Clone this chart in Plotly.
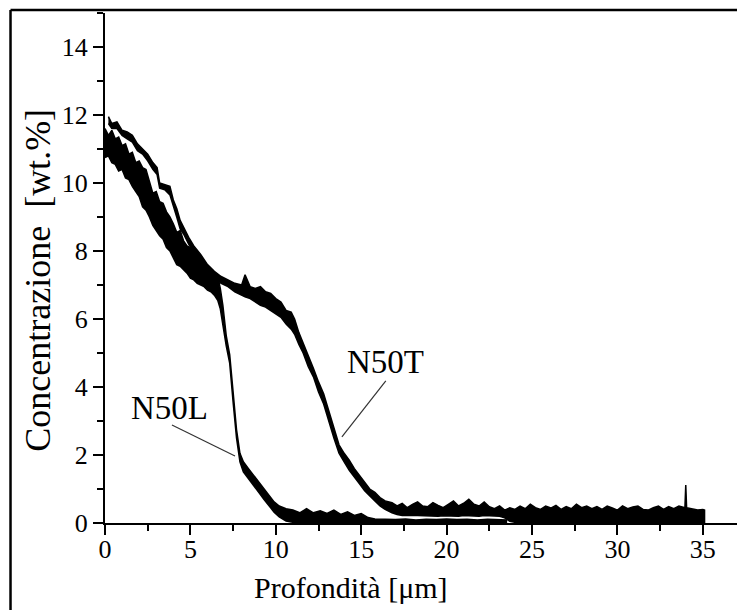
import plotly.graph_objects as go

# ---------------- data ----------------
# N50L : depth [um], upper and lower edge of the noisy trace [wt.%]
depth_L = [0.0, 0.2, 0.4, 0.6, 0.8, 1.0, 1.2, 1.4, 1.6, 1.8,
           2.0, 2.2, 2.4, 2.6, 2.8, 3.0, 3.2, 3.4, 3.6, 3.8,
           4.0, 4.2, 4.4, 4.6, 4.8, 5.0, 5.2, 5.4, 5.6, 5.8,
           6.0, 6.2, 6.4, 6.6,
           6.75, 6.9, 7.1, 7.3, 7.5, 7.7, 7.9, 8.1, 8.4,
           8.7, 9.0, 9.3, 9.6, 9.9, 10.2, 10.6, 11.0, 11.4, 11.8,
           12.2, 12.6, 13.0, 13.4, 13.8, 14.2, 14.6, 15.0, 15.4, 15.8,
           16.4, 17.0, 17.6, 18.2, 18.8, 19.4, 20.0, 20.6, 21.2, 21.8,
           22.4, 23.0, 23.5]
hi_L = [11.6, 11.4, 11.55, 11.3, 11.35, 11.1, 11.15, 10.85, 10.9, 10.6,
        10.65, 10.45, 10.4, 10.05, 9.7, 9.75, 9.45, 9.4, 9.15, 9.0,
        8.8, 8.55, 8.6, 8.3, 8.15, 8.1, 7.95, 7.85, 7.8, 7.65,
        7.55, 7.45, 7.35, 7.25,
        6.9, 6.4, 5.5, 4.95, 3.85, 2.75, 2.05, 1.8, 1.6,
        1.4, 1.2, 1.0, 0.82, 0.62, 0.5, 0.42, 0.38, 0.3, 0.42,
        0.3, 0.36, 0.28, 0.38, 0.25, 0.33, 0.22, 0.28, 0.16, 0.12,
        0.11, 0.1, 0.12, 0.09, 0.11, 0.1, 0.12, 0.1, 0.11, 0.09,
        0.11, 0.1, 0.09]
lo_L = [10.75, 10.8, 10.6, 10.55, 10.35, 10.4, 10.15, 10.1, 9.9, 9.75,
        9.6, 9.3, 9.2, 9.0, 8.75, 8.6, 8.45, 8.35, 8.1, 8.0,
        7.8, 7.6, 7.55, 7.45, 7.35, 7.2, 7.15, 7.05, 7.0, 6.95,
        6.85, 6.8, 6.7, 6.55,
        6.3, 5.85, 5.2, 4.7, 3.55, 2.5, 1.8, 1.5, 1.3,
        1.1, 0.9, 0.7, 0.5, 0.32, 0.18, 0.06, 0.02, 0.02, 0.02,
        0.02, 0.02, 0.02, 0.02, 0.02, 0.02, 0.02, 0.02, 0.02, 0.02,
        0.02, 0.02, 0.02, 0.02, 0.02, 0.02, 0.02, 0.02, 0.02, 0.02,
        0.02, 0.02, 0.02]

# N50T : depth [um], upper and lower edge of the noisy trace [wt.%]
depth_T = [0.2, 0.4, 0.7, 1.0, 1.3, 1.6, 1.9, 2.2, 2.5, 2.8,
           3.05, 3.2, 3.5, 3.8, 4.0, 4.2, 4.4, 4.6, 4.9, 5.2,
           5.6, 6.0, 6.4, 6.8, 7.2,
           7.6, 8.0, 8.2, 8.5, 8.8, 9.1, 9.4, 9.7, 10.0, 10.3,
           10.6, 10.9, 11.1, 11.35,
           11.6, 11.9, 12.2, 12.5, 12.8, 13.1, 13.4, 13.7, 14.0, 14.3,
           14.6, 14.9, 15.2, 15.5, 15.8, 16.1, 16.4,
           16.8, 17.1, 17.4, 17.7, 18.0, 18.3, 18.6, 18.9, 19.2, 19.5,
           19.8, 20.1, 20.4, 20.7, 21.0, 21.3, 21.6, 21.9, 22.2, 22.5,
           22.8, 23.1, 23.4,
           23.7, 24.0, 24.3, 24.6, 24.9, 25.2, 25.5, 25.8, 26.1, 26.4,
           26.7, 27.0, 27.3, 27.6, 27.9, 28.2, 28.5, 28.8, 29.1, 29.4,
           29.7, 30.0, 30.3, 30.6, 30.9, 31.2, 31.5, 31.8, 32.1, 32.4,
           32.7, 33.0, 33.3, 33.6, 33.95, 34.0, 34.05, 34.4, 34.7, 35.0,
           35.1]
hi_T = [11.95, 11.75, 11.8, 11.55, 11.5, 11.4, 11.15, 11.0, 10.85, 10.6,
        10.45, 10.0, 9.95, 9.9, 9.5, 9.25, 8.9, 8.7, 8.4, 8.15,
        7.9, 7.6, 7.4, 7.25, 7.15,
        7.05, 7.0, 7.3, 6.95, 6.9, 6.95, 6.8, 6.75, 6.6, 6.5,
        6.25, 6.2, 6.0, 5.6,
        5.3, 4.95, 4.55, 4.15, 3.8, 3.3, 2.8, 2.3, 2.05, 1.85,
        1.6, 1.4, 1.2, 1.0, 0.9, 0.75, 0.65,
        0.6, 0.5, 0.58, 0.45, 0.55, 0.62, 0.5, 0.48, 0.6, 0.52,
        0.45, 0.55, 0.65, 0.5, 0.58, 0.7, 0.55, 0.5, 0.62, 0.48,
        0.42, 0.5, 0.38,
        0.45, 0.4, 0.5, 0.42, 0.55, 0.45, 0.4, 0.5, 0.44, 0.52,
        0.4, 0.48, 0.42, 0.55, 0.45, 0.5, 0.42, 0.48, 0.4, 0.5,
        0.44, 0.38, 0.5, 0.42, 0.47, 0.5, 0.4, 0.38, 0.45, 0.5,
        0.4, 0.48, 0.42, 0.5, 0.45, 1.12, 0.45, 0.4, 0.38, 0.4,
        0.38]
lo_T = [11.75, 11.6, 11.6, 11.4, 11.3, 11.2, 10.95, 10.85, 10.65, 10.4,
        10.25, 9.85, 9.8, 9.65, 9.3, 9.0, 8.65, 8.5, 8.2, 7.95,
        7.65, 7.4, 7.2, 7.05, 6.95,
        6.8, 6.7, 6.65, 6.6, 6.5, 6.4, 6.35, 6.25, 6.15, 6.05,
        5.85, 5.7, 5.55, 5.25,
        5.0, 4.6, 4.3, 3.85, 3.5, 3.0, 2.5, 2.05, 1.8, 1.55,
        1.35, 1.15, 0.95, 0.8, 0.65, 0.5, 0.4,
        0.3, 0.25, 0.22, 0.22, 0.23, 0.22, 0.22, 0.21, 0.2, 0.2,
        0.21, 0.2, 0.21, 0.2, 0.22, 0.22, 0.21, 0.2, 0.22, 0.22,
        0.21, 0.2, 0.15,
        0.05, 0.02, 0.02, 0.02, 0.02, 0.02, 0.02, 0.02, 0.02, 0.02,
        0.02, 0.02, 0.02, 0.02, 0.02, 0.02, 0.02, 0.02, 0.02, 0.02,
        0.02, 0.02, 0.02, 0.02, 0.02, 0.02, 0.02, 0.02, 0.02, 0.02,
        0.02, 0.02, 0.02, 0.02, 0.02, 0.02, 0.02, 0.02, 0.02, 0.02,
        0.0]

series_names = ["N50L", "N50T"]
# label text position and leader line (text x, text y / line x0, y0, x1, y1)
label_text_xy = [(3.8, 3.37), (16.45, 4.75)]
label_line = [(3.92, 2.88, 7.61, 1.97), (16.44, 4.18, 13.87, 2.53)]

x_ticks = [0, 5, 10, 15, 20, 25, 30, 35]
y_ticks = [0, 2, 4, 6, 8, 10, 12, 14]

FONT = "Liberation Serif, Times New Roman, DejaVu Serif, serif"

fig = go.Figure()
for name, d, hi, lo in [("N50L", depth_L, hi_L, lo_L), ("N50T", depth_T, hi_T, lo_T)]:
    fig.add_trace(go.Scatter(
        x=d + d[::-1], y=hi + lo[::-1], mode="lines", name=name,
        fill="toself", fillcolor="black",
        line=dict(color="black", width=1.5), hoverinfo="skip"))

for name, (tx, ty), (x0, y0, x1, y1) in zip(series_names, label_text_xy, label_line):
    fig.add_annotation(x=tx, y=ty, text=name, showarrow=False,
                       xanchor="center", yanchor="middle",
                       font=dict(family=FONT, size=33, color="black"))
    fig.add_shape(type="line", x0=x0, y0=y0, x1=x1, y1=y1,
                  line=dict(color="#333333", width=1.2))

# axis titles
fig.add_annotation(xref="paper", yref="paper", x=0.389, y=-0.126,
                   xanchor="center", yanchor="middle",
                   text="Profondità [μm]", showarrow=False,
                   font=dict(family=FONT, size=30, color="black"))
fig.add_annotation(xref="paper", yref="paper", x=-0.106, y=0.475,
                   xanchor="center", yanchor="middle",
                   text="Concentrazione&nbsp; [wt.%]", textangle=-90, showarrow=False,
                   font=dict(family=FONT, size=36, color="black"))

# outer frame (left and top edge of the original figure box)
fig.add_shape(type="line", xref="paper", yref="paper",
              x0=-0.1495, y0=-0.18, x1=-0.1495, y1=1.0059,
              line=dict(color="black", width=2.5))
fig.add_shape(type="line", xref="paper", yref="paper",
              x0=-0.1495, y0=1.0059, x1=1.01, y1=1.0059,
              line=dict(color="black", width=2.5))

fig.update_xaxes(range=[0, 37], tickvals=x_ticks, ticktext=[str(v) for v in x_ticks],
                 showline=True, linecolor="black", linewidth=2,
                 ticks="outside", ticklen=10, tickwidth=2, tickcolor="black",
                 ticklabelstandoff=-8,
                 minor=dict(dtick=2.5, tick0=0, ticks="outside", ticklen=6,
                            tickwidth=2, tickcolor="black"),
                 showgrid=False, zeroline=False,
                 tickfont=dict(family=FONT, size=26, color="black"))
fig.update_yaxes(range=[0, 15], tickvals=y_ticks, ticktext=[str(v) for v in y_ticks],
                 showline=True, linecolor="black", linewidth=2,
                 ticks="outside", ticklen=10, tickwidth=2, tickcolor="black",
                 minor=dict(dtick=1, tick0=0, ticks="outside", ticklen=6,
                            tickwidth=2, tickcolor="black"),
                 showgrid=False, zeroline=False,
                 tickfont=dict(family=FONT, size=26, color="black"))

fig.update_layout(width=737, height=610,
                  margin=dict(l=105, r=0, t=13, b=87),
                  plot_bgcolor="white", paper_bgcolor="white",
                  font=dict(family=FONT, color="black"),
                  showlegend=False)

fig.write_html("out.html")
